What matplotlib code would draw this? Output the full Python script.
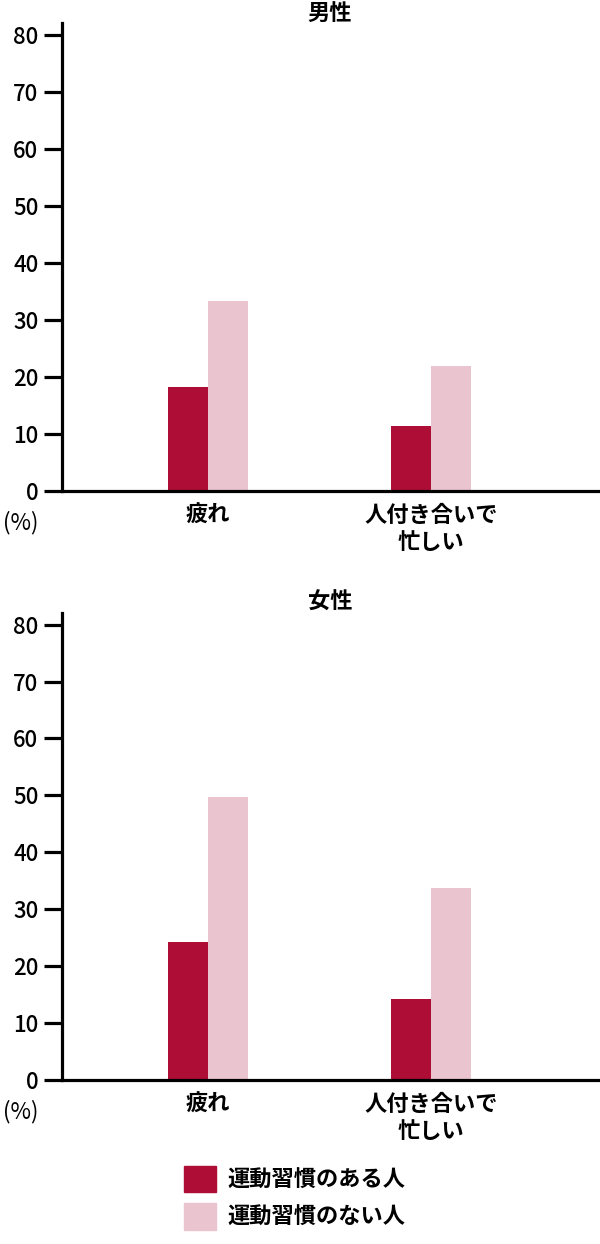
import matplotlib
matplotlib.use("Agg")
import matplotlib.pyplot as plt
from matplotlib.patches import Patch
import numpy as np

plt.rcParams['font.family'] = ['Noto Sans CJK JP', 'DejaVu Sans']

# data
categories = ["疲れ", "人付き合いで\n忙しい"]
series_names = ["運動習慣のある人", "運動習慣のない人"]
male_with = [18.3, 11.4]
male_without = [33.3, 21.9]
female_with = [24.2, 14.2]
female_without = [49.8, 33.7]
panel_titles = ["男性", "女性"]
yticks = [0, 10, 20, 30, 40, 50, 60, 70, 80]

dark = "#AE0E36"
light = "#EAC4CF"

fig = plt.figure(figsize=(6, 12.44), dpi=100)

# axes boxes in figure fraction (left, bottom, width, height)
boxes = [(0.1033, 0.6053, 0.8967, 0.3762),
         (0.1033, 0.1318, 0.8967, 0.3757)]
panels = [(male_with, male_without), (female_with, female_without)]

x = np.arange(len(categories))
w = 0.179

for box, title, (v1, v2) in zip(boxes, panel_titles, panels):
    ax = fig.add_axes(box)
    ax.bar(x - w/2, v1, w, color=dark)
    ax.bar(x + w/2, v2, w, color=light)
    ax.set_xlim(-0.655, 1.758)
    ax.set_ylim(0, 82.1)
    ax.set_yticks(yticks)
    ax.set_xticks(x)
    ax.set_xticklabels(categories, fontsize=16, fontweight='bold', linespacing=1.25)
    for s in ["top", "right"]:
        ax.spines[s].set_visible(False)
    for s in ["left", "bottom"]:
        ax.spines[s].set_linewidth(2.3)
    ax.tick_params(axis='y', length=13, width=2.3, pad=4, labelsize=16)
    ax.tick_params(axis='x', length=0, pad=9)
    for lab in ax.get_yticklabels():
        lab.set_fontweight('medium')
    # title a bit below the axes top, like the reference
    top_px = (1 - box[1] - box[3]) * 1244
    fig.text(0.55, 1 - (top_px - 10) / 1244, title, fontsize=16,
             fontweight='bold', ha='center', va='center')
    bottom_px = (1 - box[1]) * 1244
    fig.text(3 / 600, 1 - (bottom_px + 32) / 1244, "(%)", fontsize=16,
             ha='left', va='center')

handles = [Patch(color=dark), Patch(color=light)]
fig.legend(handles, series_names, loc='upper left',
           bbox_to_anchor=(184/600, 1 - 1166/1244), frameon=False,
           prop={'weight': 'bold', 'size': 16},
           handlelength=1.44, handleheight=1.44, handletextpad=0.5,
           labelspacing=0.5, borderpad=0, borderaxespad=0)

fig.savefig("out.png", dpi=100)
